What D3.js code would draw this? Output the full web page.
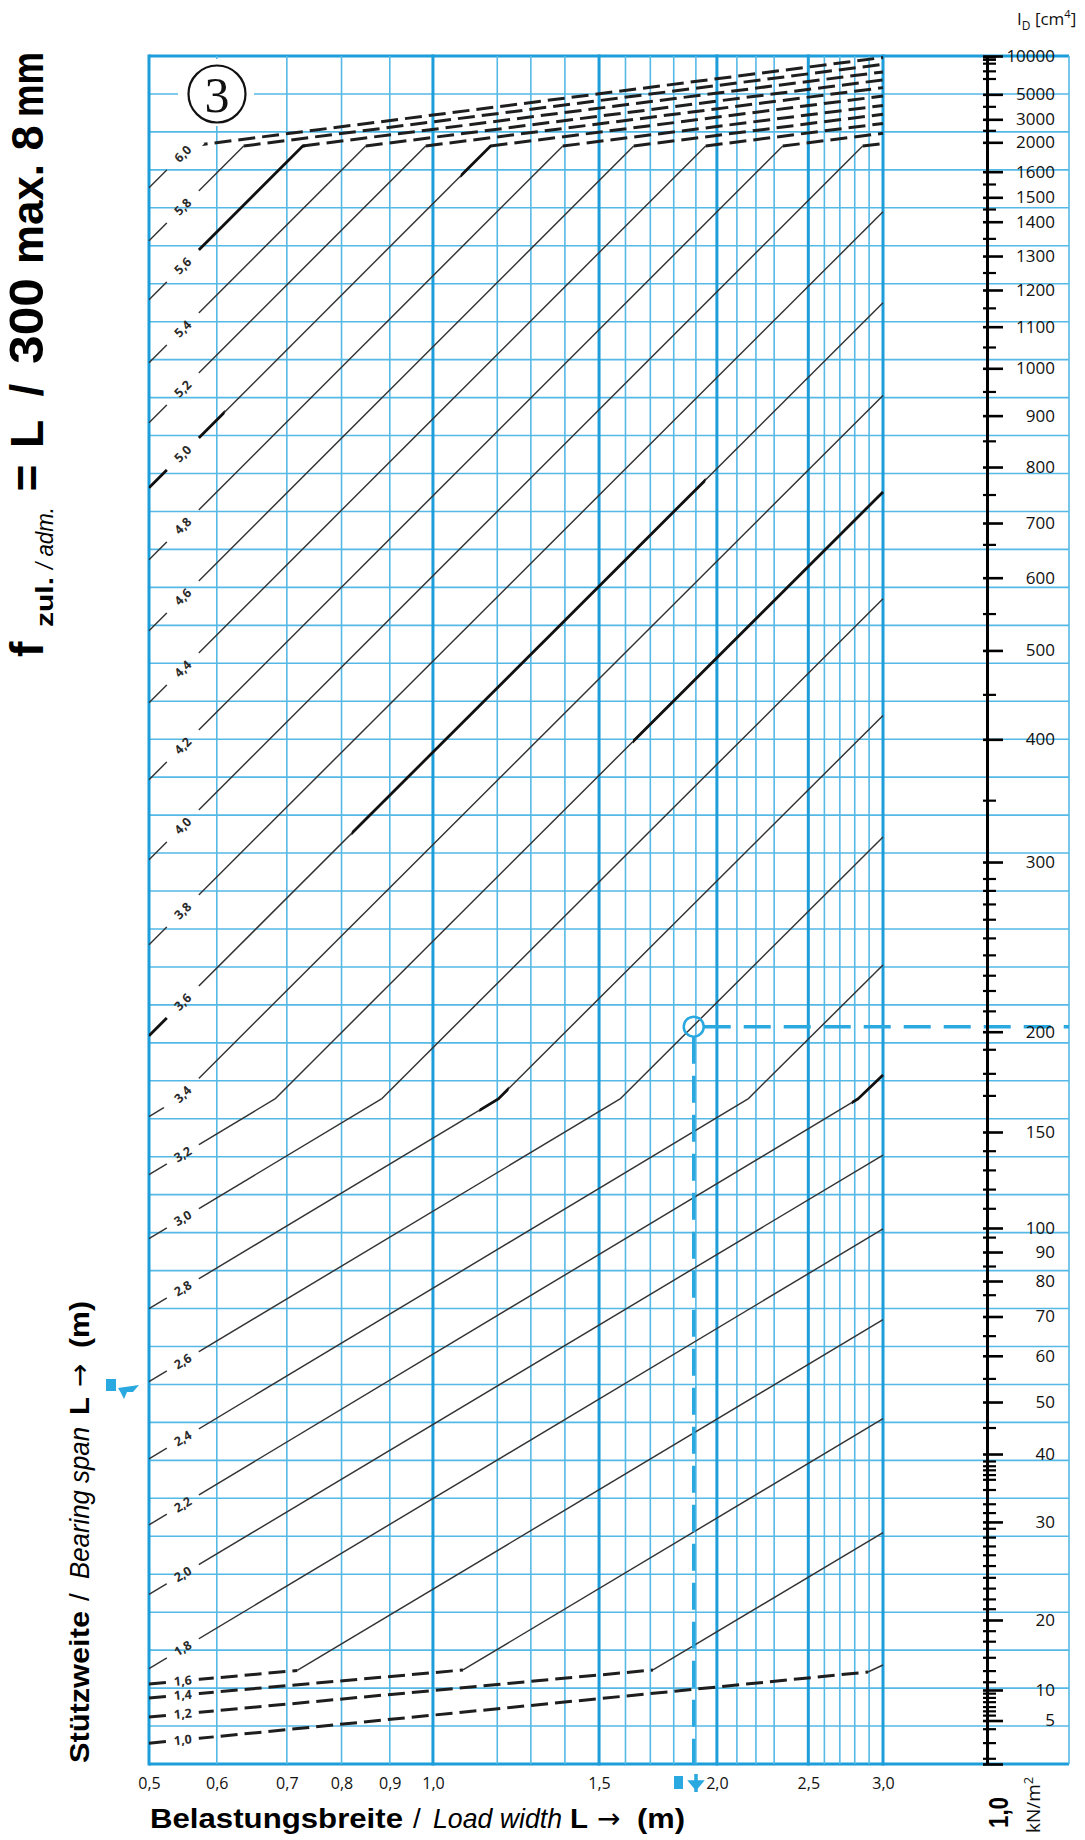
<!DOCTYPE html>
<html><head><meta charset="utf-8">
<script src="https://cdn.jsdelivr.net/npm/d3@7"></script>
<style>
html,body{margin:0;padding:0;background:#fff;}
svg{display:block;}
</style></head><body>
<svg id="chart" width="1085" height="1840"></svg>
<script>
// ---------------- data ----------------
const loadWidthTicks = [0.5, 0.59, 0.7, 0.8, 0.9, 1.0, 1.5, 2.0, 2.5, 3.0];
const loadWidthMajorGrid = [0.5, 1.0, 1.5, 2.0, 2.5, 3.0];
const loadWidthMinorGrid = [0.59, 0.7, 0.8, 0.9, 1.17, 1.27, 1.38, 1.6, 1.7, 1.8, 1.9, 2.1, 2.2, 2.3, 2.6, 2.7, 2.8, 2.9];

const idLabelTicks = [10000,5000,3000,2000,1600,1500,1400,1300,1200,1100,1000,900,800,700,600,500,400,300,200,150,100,90,80,70,60,50,40,30,20,10,5,0];
const idScaleValues = [0,5,10,20,30,40,50,60,70,80,90,100,150,200,300,400,500,600,700,800,900,1000,1100,1200,1300,1400,1500,1600,2000,3000,5000,10000];
const idScaleRows = [0,1.146,1.950,3.794,6.378,8.167,9.537,10.755,11.790,12.725,13.489,14.122,16.651,19.293,23.764,26.997,29.339,31.255,32.696,34.171,35.525,36.772,37.868,38.835,39.730,40.634,41.277,41.952,42.726,43.332,43.990,45];
const idMinorTicks = [9800,9500,9000,8000,7000,4000,2500,1550,1450,1350,1250,1150,1050,950,850,750,660,550,450,350,
  290,283,275,266,255,245,233,224,212,191,179,168,140,130,120,110,96,85,76,65,55,45,
  38.9,38.2,37.6,36.9,36.2,34.7,32.6,31.3,29.3,28.4,27.5,26.6,25.5,24.3,23.2,22.1,21.1,
  18.4,16.9,14.6,12.7,11.1,9.4,8.7,8.0,7.2,6.5,5.8,4.0,2.4,0.6];

const spans = [1.0,1.2,1.4,1.6,1.8,2.0,2.2,2.4,2.6,2.8,3.0,3.2,3.4,3.6,3.8,4.0,4.2,4.4,4.6,4.8,5.0,5.2,5.4,5.6,5.8,6.0];
// vertices [load width b (m), I_D (cm^4)] for each span line
const spanCurves = [
  [[0.5,2.38],[2.892,12.57],[3.0,13.57]],
  [[0.5,5.57],[1.711,12.86],[3.0,28.9]],
  [[0.5,8.69],[1.076,12.86],[3.0,46.8]],
  [[0.5,10.86],[0.718,12.79],[3.0,69.2]],
  [[0.5,13.06],[3.0,99.6]],
  [[0.5,22.6],[3.0,138.0]],
  [[0.5,29.7],[2.822,166.5],[3.0,178.4]],
  [[0.5,39.3],[2.158,166.5],[3.0,239.3]],
  [[0.5,54.4],[1.579,166.5],[3.0,320.4]],
  [[0.5,72.2],[1.173,166.5],[3.0,426.9]],
  [[0.5,95.6],[0.882,166.5],[3.0,571.1]],
  [[0.5,127.8],[0.680,166.5],[3.0,755.4]],
  [[0.5,157.7],[0.537,166.5],[3.0,942.7]],
  [[0.5,198.0],[3.0,1165.4]],
  [[0.5,251.3],[3.0,1441]],
  [[0.5,301.9],[2.855,1949.7],[3.0,1983.7]],
  [[0.5,367.1],[2.349,1949.7],[3.0,2391]],
  [[0.5,441.2],[1.946,1949.7],[3.0,2822]],
  [[0.5,527.1],[1.6325,1949.7],[3.0,3408]],
  [[0.5,632.9],[1.373,1949.7],[3.0,4112]],
  [[0.5,763],[1.151,1949.7],[3.0,4864]],
  [[0.5,886.2],[0.9825,1949.7],[3.0,5875]],
  [[0.5,1013.5],[0.8487,1949.7],[3.0,6880]],
  [[0.5,1173.6],[0.7277,1949.7],[3.0,7924]],
  [[0.5,1344.6],[0.630,1949.7],[3.0,8916]],
  [[0.5,1537.5],[0.5536,1949.7],[3.0,9804]]
];
// stretches of lines printed heavier in the original: [span, from b, to b]
const heavyStretches = [[3.6,0.5,0.56],[3.6,0.82,1.94],[3.2,1.63,3.0],[5.0,0.5,0.6],[5.0,1.07,1.15],[5.6,0.56,0.73],[2.2,2.78,3.0],[2.8,1.12,1.2]];
const labelLoadWidth = 0.543;
const examplePoint = [1.89, 203];   // read-off example (load width, I_D)

// ---------------- layout ----------------
const W = 1085, H = 1840;
const plot = {left:149, right:883, top:56, bottom:1764, gridRight:1069};
const BLUE = '#2aa8e0', BLUE_MAJ = '#1d9dd9', BLUE_MIN = '#55b9e6';
const svg = d3.select('#chart');
const x = d3.scaleLog().domain([0.5, 3.0]).range([plot.left, plot.right]);
const rowScale = d3.scaleLinear().domain([0, 45]).range([plot.bottom, plot.top]);
const y = d3.scaleLinear().domain(idScaleValues).range(idScaleRows.map(rowScale));

// ---------------- grid ----------------
const grid = svg.append('g');
grid.selectAll('line.h').data(d3.range(0, 46)).join('line')
  .attr('x1', plot.left).attr('x2', plot.gridRight)
  .attr('y1', d => rowScale(d)).attr('y2', d => rowScale(d))
  .attr('stroke', d => (d === 0 || d === 45) ? BLUE_MAJ : BLUE_MIN)
  .attr('stroke-width', d => (d === 0 || d === 45) ? 3 : 1.6);
grid.selectAll('line.vmin').data(loadWidthMinorGrid).join('line')
  .attr('x1', d => x(d)).attr('x2', d => x(d))
  .attr('y1', plot.top).attr('y2', plot.bottom)
  .attr('stroke', BLUE_MIN).attr('stroke-width', 1.6);
grid.selectAll('line.vmaj').data(loadWidthMajorGrid).join('line')
  .attr('x1', d => x(d)).attr('x2', d => x(d))
  .attr('y1', plot.top - 1.5).attr('y2', plot.bottom + 1.5)
  .attr('stroke', BLUE_MAJ).attr('stroke-width', 3);
grid.append('line').attr('x1', plot.gridRight).attr('x2', plot.gridRight)
  .attr('y1', plot.top).attr('y2', plot.bottom)
  .attr('stroke', BLUE_MIN).attr('stroke-width', 1.6);

// circled number
svg.append('rect').attr('x', 178).attr('y', 59).attr('width', 76).attr('height', 67).attr('fill', '#fff');
svg.append('circle').attr('cx', 217).attr('cy', 94).attr('r', 28.5)
  .attr('fill', 'none').attr('stroke', '#111').attr('stroke-width', 2.2);
svg.append('text').attr('x', 217).attr('y', 112).attr('text-anchor', 'middle')
  .attr('font-family', '"Liberation Serif", "DejaVu Serif", serif').attr('font-size', 50)
  .attr('fill', '#111').text('3');

// ---------------- curves ----------------
const defs = svg.append('defs');
const mask = defs.append('mask').attr('id', 'gapMask').attr('maskUnits', 'userSpaceOnUse')
  .attr('x', 0).attr('y', 0).attr('width', W).attr('height', H);
mask.append('rect').attr('width', W).attr('height', H).attr('fill', '#fff');

const curveG = svg.append('g').attr('mask', 'url(#gapMask)');
const labelG = svg.append('g');
const lineGen = d3.line();
const fmtL = d => d3.format('.1f')(d).replace('.', ',');
const lx = x(labelLoadWidth);

spans.forEach((L, i) => {
  const pts = spanCurves[i].map(([b, I]) => [x(b), y(I)]);
  for (let k = 0; k < pts.length - 1; k++) {
    const p1 = pts[k], p2 = pts[k + 1];
    const flat = Math.abs((p2[1] - p1[1]) / (p2[0] - p1[0])) < 0.25;
    curveG.append('path').attr('d', lineGen([p1, p2]))
      .attr('fill', 'none')
      .attr('stroke', flat ? '#1e1e1e' : '#333')
      .attr('stroke-width', flat ? 3 : 1.45)
      .attr('stroke-dasharray', flat ? '17 7' : null);
  }
  // label position on polyline
  let seg = 0;
  while (seg < pts.length - 2 && pts[seg + 1][0] < lx) seg++;
  const a = pts[seg], c = pts[seg + 1];
  const t = (lx - a[0]) / (c[0] - a[0]);
  const ly = a[1] + t * (c[1] - a[1]);
  const ang = Math.atan2(c[1] - a[1], c[0] - a[0]) * 180 / Math.PI;
  const gapLen = Math.min(48, 32 / Math.abs(Math.cos(ang * Math.PI / 180)));
  mask.append('rect').attr('x', -gapLen / 2).attr('y', -8).attr('width', gapLen).attr('height', 16)
    .attr('fill', '#000').attr('transform', `translate(${lx},${ly}) rotate(${ang})`);
  labelG.append('text')
    .attr('transform', `translate(${lx},${ly}) rotate(${ang})`)
    .attr('text-anchor', 'middle').attr('dy', '0.35em')
    .attr('font-family', '"Noto Sans", "DejaVu Sans", sans-serif').attr('font-weight', 'bold')
    .attr('font-size', 12.5).attr('fill', '#2a2a2a').text(fmtL(L));
});

// heavier printed stretches
heavyStretches.forEach(([L, b0, b1], j) => {
  const i = spans.indexOf(L);
  const cid = 'hs' + j;
  defs.append('clipPath').attr('id', cid).append('rect')
    .attr('x', x(b0)).attr('y', 0).attr('width', x(b1) - x(b0) + 1).attr('height', H);
  curveG.append('path').attr('d', lineGen(spanCurves[i].map(([b, I]) => [x(b), y(I)])))
    .attr('clip-path', `url(#${cid})`).attr('fill', 'none')
    .attr('stroke', '#111').attr('stroke-width', 2.8);
});

// ---------------- example read-off ----------------
const ex = x(examplePoint[0]), ey = y(examplePoint[1]);
svg.append('line').attr('x1', ex + 10).attr('x2', plot.gridRight).attr('y1', ey).attr('y2', ey)
  .attr('stroke', BLUE).attr('stroke-width', 3.5).attr('stroke-dasharray', '27 13');
svg.append('line').attr('x1', ex).attr('x2', ex).attr('y1', ey + 10).attr('y2', plot.bottom)
  .attr('stroke', BLUE).attr('stroke-width', 3.5).attr('stroke-dasharray', '27 12');
svg.append('circle').attr('cx', ex).attr('cy', ey).attr('r', 10)
  .attr('fill', 'none').attr('stroke', BLUE).attr('stroke-width', 2.5);

// ---------------- right I_D axis ----------------
const axisX = 987;
const ax = svg.append('g').attr('transform', `translate(${axisX},0)`);
ax.call(d3.axisRight(y).tickValues(idLabelTicks).tickSize(16).tickSizeOuter(0)
  .tickFormat(d => d === 0 ? '' : d));
ax.select('.domain').attr('stroke', '#000').attr('stroke-width', 3);
ax.selectAll('.tick line').attr('x1', -4).attr('x2', 16).attr('stroke', '#000').attr('stroke-width', 2.6);
ax.selectAll('.tick text').attr('x', 68).attr('text-anchor', 'end')
  .attr('font-family', '"Open Sans", "Noto Sans", sans-serif').attr('font-size', 17).attr('fill', '#111');
ax.selectAll('line.minor').data(idMinorTicks).join('line').attr('class', 'minor')
  .attr('x1', -4).attr('x2', 9).attr('y1', d => y(d)).attr('y2', d => y(d))
  .attr('stroke', '#000').attr('stroke-width', 2.2);

const idTitle = svg.append('text').attr('x', 1017).attr('y', 25)
  .attr('font-family', '"Open Sans", "Noto Sans", sans-serif').attr('font-size', 17).attr('fill', '#111');
idTitle.append('tspan').text('I');
idTitle.append('tspan').attr('dy', 5).attr('font-size', 12).text('D');
idTitle.append('tspan').attr('dy', -5).text(' [cm');
idTitle.append('tspan').attr('dy', -7).attr('font-size', 11).text('4');
idTitle.append('tspan').attr('dy', 7).text(']');

// ---------------- bottom axis ----------------
const bx = svg.append('g').attr('transform', `translate(0,${plot.bottom})`);
bx.call(d3.axisBottom(x).tickValues(loadWidthTicks).tickSize(0).tickPadding(14).tickFormat(fmtL));
bx.select('.domain').remove();
bx.selectAll('.tick text').attr('font-family', '"Open Sans", "Noto Sans", sans-serif')
  .attr('font-size', 16).attr('fill', '#111');

// ---------------- titles ----------------
const SANS = '"Liberation Sans", Arial, sans-serif';
function piece(g, txt, x0, len, opts) {
  const t = g.append('text').attr('x', x0).attr('y', opts.dy || 0)
    .attr('font-family', opts.family || SANS).attr('font-size', opts.size)
    .attr('font-weight', opts.bold ? 'bold' : 'normal')
    .attr('text-anchor', opts.anchor || 'start')
    .attr('font-style', opts.italic ? 'italic' : 'normal').attr('fill', '#000').text(txt);
  if (len) t.attr('textLength', len).attr('lengthAdjust', opts.adjust || 'spacingAndGlyphs');
  return t;
}
const ARROW = '"DejaVu Sans", sans-serif';
// bottom title
const bt = svg.append('g').attr('transform', 'translate(0,1828)');
piece(bt, 'Belastungsbreite', 150, 253, {size: 28, bold: true});
piece(bt, '/', 413, null, {size: 28});
piece(bt, 'Load width', 433, 129, {size: 28, italic: true});
piece(bt, 'L', 570, 18, {size: 28, bold: true});
piece(bt, '→', 597, null, {size: 28, family: ARROW});
piece(bt, '(m)', 637, 48, {size: 28, bold: true});

// left title
const lt = svg.append('g').attr('transform', 'translate(89,1763) rotate(-90)');
piece(lt, 'Stützweite', 0, 152, {size: 28, bold: true});
piece(lt, '/', 162, null, {size: 28});
piece(lt, 'Bearing span', 184, 152, {size: 28, italic: true});
piece(lt, 'L', 348, 18, {size: 28, bold: true});
piece(lt, '→', 376, null, {size: 28, family: ARROW});
piece(lt, '(m)', 415, 47, {size: 28, bold: true});

// formula title
const ft = svg.append('g').attr('transform', 'translate(43,657) rotate(-90)');
piece(ft, 'f', 0, null, {size: 46, bold: true});
piece(ft, 'zul.', 30, 50, {size: 24, bold: true, dy: 10});
piece(ft, '/ adm.', 88, 62, {size: 24, italic: true, dy: 10});
piece(ft, '=', 179, null, {size: 46, bold: true, anchor: 'middle'});
piece(ft, 'L', 223, null, {size: 46, bold: true, anchor: 'middle'});
piece(ft, '/', 267, null, {size: 46, bold: true, anchor: 'middle'});
piece(ft, '300', 293, 86, {size: 48, bold: true});
piece(ft, 'max.', 393, 100, {size: 44, bold: true});
piece(ft, '8', 519, null, {size: 45, bold: true, anchor: 'middle'});
piece(ft, 'mm', 540, 65, {size: 44, bold: true});

// load unit
const ku = svg.append('g').attr('transform', 'translate(1008,1828) rotate(-90)');
piece(ku, '1,0', 0, 31, {size: 27, bold: true});
const ku2 = svg.append('g').attr('transform', 'translate(1040,1833) rotate(-90)');
const kt = ku2.append('text').attr('font-family', '"Open Sans", "Noto Sans", sans-serif')
  .attr('font-size', 19).attr('fill', '#111');
kt.append('tspan').text('kN/m');
kt.append('tspan').attr('dy', -7).attr('font-size', 13).text('2');

// small blue pictograms
svg.append('rect').attr('x', 674).attr('y', 1776).attr('width', 9).attr('height', 13).attr('fill', BLUE);
svg.append('path').attr('d', 'M696,1774 L696,1792 M691,1782 L701,1782 L696,1788 Z')
  .attr('stroke', BLUE).attr('stroke-width', 3.5).attr('fill', BLUE);
svg.append('rect').attr('x', 106).attr('y', 1379).attr('width', 10).attr('height', 12).attr('fill', BLUE);
svg.append('path').attr('d', 'M118,1388 L139,1385 L133,1392 L127,1392 L124,1399 L121,1393 Z').attr('fill', BLUE);
</script>
</body></html>
